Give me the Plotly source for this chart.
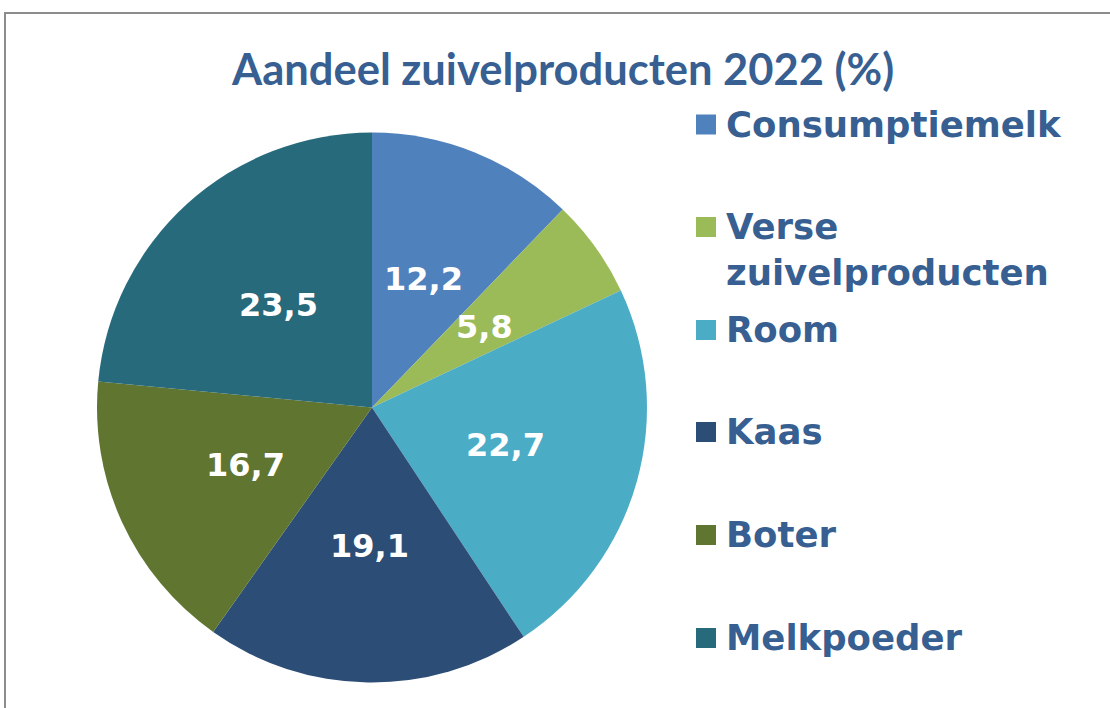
import math
import plotly.graph_objects as go

labels = ["Consumptiemelk", "Verse zuivelproducten", "Room", "Kaas", "Boter", "Melkpoeder"]
values = [12.2, 5.8, 22.7, 19.1, 16.7, 23.5]
colors = ["#4F81BD", "#9BBB59", "#4BACC6", "#2C4D75", "#5F7530", "#276A7C"]
title_text = "Aandeel zuivelproducten 2022 (%)"

W, H = 1110, 708
TEXT_BLUE = "#375F91"

# pie geometry (pixels)
CX, CY, R = 372, 407.5, 275
LABEL_DIST = 139

fig = go.Figure()
fig.add_trace(go.Pie(
    labels=labels, values=values, sort=False, direction="clockwise", rotation=0,
    marker=dict(colors=colors, line=dict(width=0)),
    textinfo="none",
    showlegend=False, hoverinfo="label+value",
    domain=dict(x=[(CX - R) / W, (CX + R) / W], y=[1 - (CY + R) / H, 1 - (CY - R) / H]),
))

annotations = []
shapes = []

# data labels at mid-angle of each slice
total = sum(values)
cum = 0.0
for v in values:
    theta = 2 * math.pi * (cum + v / 2) / total
    cum += v
    px = CX + LABEL_DIST * math.sin(theta)
    py = CY - LABEL_DIST * math.cos(theta)
    annotations.append(dict(
        x=px / W, y=1 - py / H, xref="paper", yref="paper",
        xanchor="center", yanchor="middle", showarrow=False,
        text=f"{v:.1f}".replace(".", ","),
        font=dict(family="DejaVu Sans", size=32, color="white", weight="bold"),
    ))

# manual legend
LEG_SIZE = 35.5
legend_y = [124.5, 227, 330, 432, 535, 638]
for lab, col, yy in zip(labels, colors, legend_y):
    words = lab.split(" ")
    text = "<br>".join(words) if len(words) > 1 else lab
    annotations.append(dict(
        x=724 / W, y=1 - (yy - 0.64 * LEG_SIZE) / H, xref="paper", yref="paper",
        xanchor="left", yanchor="top", text=text, showarrow=False, align="left",
        font=dict(family="DejaVu Sans", size=LEG_SIZE, color=TEXT_BLUE, weight="bold"),
    ))
    shapes.append(dict(type="rect", xref="paper", yref="paper",
                       x0=696 / W, x1=716 / W, y0=1 - (yy + 10) / H, y1=1 - (yy - 10) / H,
                       fillcolor=col, line=dict(width=0)))

annotations.append(dict(
    x=562 / W, y=1 - 68 / H, xref="paper", yref="paper", xanchor="center", yanchor="middle",
    text=title_text, showarrow=False,
    font=dict(family="Lato", size=43.5, color=TEXT_BLUE, weight="bold"),
))
shapes.append(dict(type="rect", xref="paper", yref="paper",
                   x0=5 / W, x1=1.05, y0=-0.05, y1=1 - 13 / H,
                   line=dict(color="#8C8C8C", width=2), fillcolor="rgba(0,0,0,0)"))

fig.update_layout(
    width=W, height=H, margin=dict(l=0, r=0, t=0, b=0),
    paper_bgcolor="white", plot_bgcolor="white",
    separators=",.", annotations=annotations, shapes=shapes,
)
fig.write_html("out.html", config={"displayModeBar": False},
               post_script="document.body.style.margin='0';")
